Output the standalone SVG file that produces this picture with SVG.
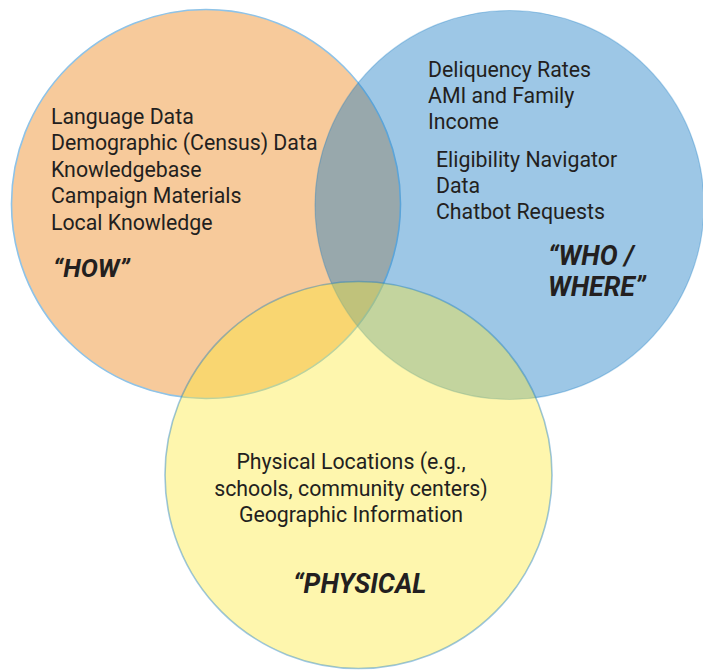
<svg xmlns="http://www.w3.org/2000/svg" width="703" height="670" viewBox="0 0 703 670">
<style>
.t{font-family:Roboto,"Liberation Sans",sans-serif;font-size:21.3px;fill:#231f20}
.h{font-family:Roboto,"Liberation Sans",sans-serif;font-size:26.8px;font-weight:bold;font-style:italic;fill:#231f20}
</style>
<rect width="703" height="670" fill="#ffffff"/>
<g id="how">
<circle cx="206" cy="204" r="194.5" fill="#F7CA9B" stroke="#8EC3E8" stroke-width="1.6"/>
</g>
<g id="who-where">
<circle cx="509.5" cy="205" r="194.5" fill="#1579C3" fill-opacity="0.42" stroke="#1579C3" stroke-opacity="0.3" stroke-width="1.2"/>
</g>
<g id="physical">
<circle cx="358.5" cy="475" r="193.5" fill="#FCE832" fill-opacity="0.4" stroke="#1579C3" stroke-opacity="0.42" stroke-width="1.6"/>
</g>
<g id="how-text">
<text class="t" x="51" y="124">Language Data</text>
<text class="t" x="51" y="150.4">Demographic (Census) Data</text>
<text class="t" x="51" y="176.8">Knowledgebase</text>
<text class="t" x="51" y="203.2">Campaign Materials</text>
<text class="t" x="51" y="229.6">Local Knowledge</text>
<text class="h" x="53" y="277" style="font-size:25.6px">“HOW”</text>
</g>
<g id="who-text">
<text class="t" x="428" y="76.7">Deliquency Rates</text>
<text class="t" x="428" y="102.7">AMI and Family</text>
<text class="t" x="428" y="129">Income</text>
<text class="t" x="436" y="166.7">Eligibility Navigator</text>
<text class="t" x="436" y="193.3">Data</text>
<text class="t" x="436" y="219.3">Chatbot Requests</text>
<text class="h" x="548" y="265">“WHO /</text>
<text class="h" x="548" y="296">WHERE”</text>
</g>
<g id="physical-text">
<text class="t" x="351" y="469.3" text-anchor="middle">Physical Locations (e.g.,</text>
<text class="t" x="351" y="495.5" text-anchor="middle">schools, community centers)</text>
<text class="t" x="351" y="521.7" text-anchor="middle">Geographic Information</text>
<text class="h" x="293" y="593.3">“PHYSICAL</text>
</g>
<g id="connectors"/>
</svg>
